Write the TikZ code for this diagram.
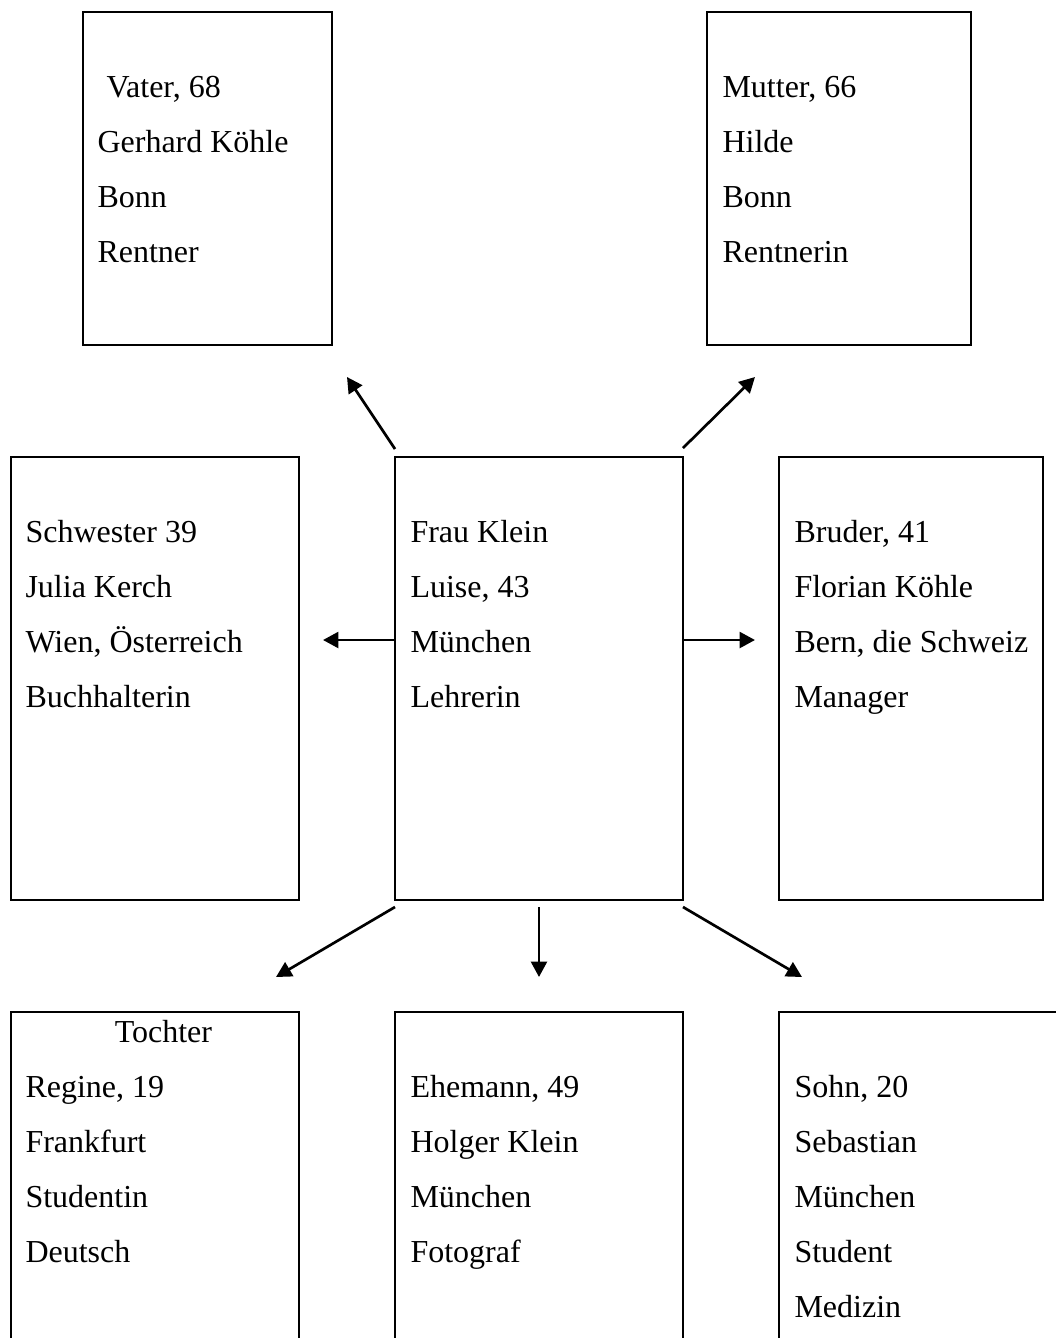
\documentclass[tikz,border=0pt]{standalone}
\usepackage{fontspec}
\setmainfont{Liberation Serif}
\usetikzlibrary{arrows.meta}
\tikzset{
  pbox/.style n args={2}{draw, line width=1.1pt, inner sep=0pt, outer sep=0pt,
     minimum width=#1*0.375pt, minimum height=#2*0.375pt},
  tline/.style={anchor=base west, inner sep=0pt, font=\fontsize{12}{14}\selectfont},
  tlinec/.style={anchor=base, inner sep=0pt, font=\fontsize{12}{14}\selectfont},
  link/.style={line width=1pt, -{Triangle[length=5.8pt,width=6pt]}},
}
\begin{document}
\begin{tikzpicture}[x=0.375pt, y=-0.375pt]
\useasboundingbox (0,0) rectangle (1056,1338);
\clip (0,0) rectangle (1056,1338);
% boxes
\node[pbox={249}{333}] (vater) at (207.5,178.5) {};
\node[pbox={264}{333}] (mutter) at (839,178.5) {};
\node[pbox={288}{443}] (schwester) at (155,678.5) {};
\node[pbox={288}{443}] (frau) at (539,678.5) {};
\node[pbox={264}{443}] (bruder) at (911,678.5) {};
\node[pbox={288}{348}] (tochter) at (155,1186) {};
\node[pbox={288}{348}] (ehemann) at (539,1186) {};
\node[pbox={296}{348}] (sohn) at (927,1186) {};
% texts
\foreach \t [count=\i] in {{\hspace*{3.4pt}Vater, 68},{Gerhard Köhle},{Bonn},{Rentner}}
  \node[tline] (vaterT\i) at (97,{97+55*(\i-1)}) {\t};
\foreach \t [count=\i] in {{Mutter, 66},{Hilde},{Bonn},{Rentnerin}}
  \node[tline] (mutterT\i) at (722,{97+55*(\i-1)}) {\t};
\foreach \t [count=\i] in {{Schwester 39},{Julia Kerch},{Wien, Österreich},{Buchhalterin}}
  \node[tline] (schwesterT\i) at (25,{542+55*(\i-1)}) {\t};
\foreach \t [count=\i] in {{Frau Klein},{Luise, 43},{München},{Lehrerin}}
  \node[tline] (frauT\i) at (410,{542+55*(\i-1)}) {\t};
\foreach \t [count=\i] in {{Bruder, 41},{Florian Köhle},{Bern, die Schweiz},{Manager}}
  \node[tline] (bruderT\i) at (794,{542+55*(\i-1)}) {\t};
\node[tlinec] (tochterT0) at (163.4,1042.5) {Tochter};
\foreach \t [count=\i] in {{Regine, 19},{Frankfurt},{Studentin},{Deutsch}}
  \node[tline] (tochterT\i) at (25,{1097.5+55*(\i-1)}) {\t};
\foreach \t [count=\i] in {{Ehemann, 49},{Holger Klein},{München},{Fotograf}}
  \node[tline] (ehemannT\i) at (410,{1097.5+55*(\i-1)}) {\t};
\foreach \t [count=\i] in {{Sohn, 20},{Sebastian},{München},{Student},{Medizin}}
  \node[tline] (sohnT\i) at (794,{1097.5+55*(\i-1)}) {\t};
% arrow end points
\coordinate (a1s) at (395,449);  \coordinate (a1e) at (347,377);
\coordinate (a2s) at (683,448);  \coordinate (a2e) at (755,377);
\coordinate (a3s) at (394,640);  \coordinate (a3e) at (323,640);
\coordinate (a4s) at (684,640);  \coordinate (a4e) at (755,640);
\coordinate (a5s) at (395,907);  \coordinate (a5e) at (276,977);
\coordinate (a6s) at (539,907);  \coordinate (a6e) at (539,977);
\coordinate (a7s) at (683,907);  \coordinate (a7e) at (802,977);
\foreach \k in {1,...,7}
  \draw[link] (a\k s) -- (a\k e);
\end{tikzpicture}
\end{document}
